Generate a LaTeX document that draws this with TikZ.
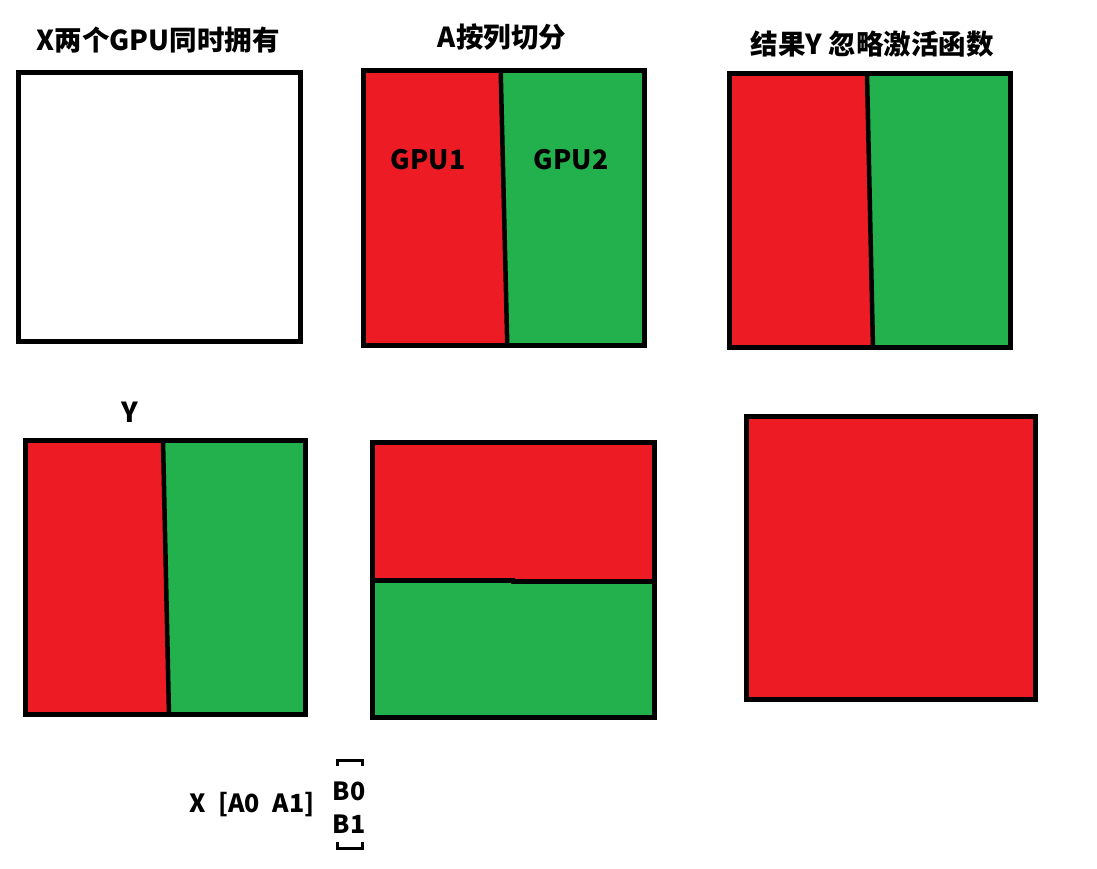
\documentclass[tikz,border=0pt]{standalone}
\usepackage{fontspec}
\setmainfont{Noto Sans CJK SC}
\usetikzlibrary{calc}
\definecolor{gpured}{HTML}{ED1C24}
\definecolor{gpugreen}{HTML}{22B14C}
\tikzset{every scope/.style={line join=miter},
  frame/.style={draw=black,line width=5pt},
  divider/.style={draw=black,line width=4.5pt},
  bracketbar/.style={draw=black,line width=3pt},
  lbl/.style={font=\bfseries\fontsize{27.5}{31}\selectfont,inner sep=0pt},
  gpulbl/.style={font=\bfseries\fontsize{26.7}{30}\selectfont,inner sep=0pt},
  sublbl/.style={font=\bfseries\fontsize{25}{29}\selectfont,inner sep=0pt}}

\begin{document}
\begin{tikzpicture}[x=1pt,y=-1pt]
      \useasboundingbox (0,0) rectangle (1097,869);
      % titles
      \node[lbl] (tX) at (158,40) {X两个GPU同时拥有};
      \node[lbl] (tA) at (502,37) {A按列切分};
      \node[lbl] (tY) at (872,44) {结果Y 忽略激活函数};
      % X
      \draw[frame,fill=white] (18.5,72.5) rectangle (300.5,341.5);
      % A split by columns
      \fill[gpured] (363,71) -- (500.7,71) -- (507.3,345) -- (363,345) -- cycle;
      \fill[gpugreen] (500.7,71) -- (644,71) -- (644,345) -- (507.3,345) -- cycle;
      \draw[divider] (500.7,71) -- (507.3,347);
      \draw[frame] (363,71) rectangle (644,345);
      \node[gpulbl] (g1) at (428,160) {GPU1};
      \node[gpulbl] (g2) at (571,160) {GPU2};
      % result Y
      \fill[gpured] (729,74) -- (867,74) -- (873,347) -- (729,347) -- cycle;
      \fill[gpugreen] (867,74) -- (1010,74) -- (1010,347) -- (873,347) -- cycle;
      \draw[divider] (867,74) -- (873,349);
      \draw[frame] (729,74) rectangle (1010,347);
      % Y
      \node[lbl] (yl) at (130,412) {Y};
      \fill[gpured] (25,440) -- (163,440) -- (169,714) -- (25,714) -- cycle;
      \fill[gpugreen] (163,440) -- (305,440) -- (305,714) -- (169,714) -- cycle;
      \draw[divider] (163,440) -- (169,716);
      \draw[frame] (25,440) rectangle (305,714);
      % B split by rows
      \fill[gpured] (372,442) rectangle (654,580.5);
      \fill[gpugreen] (372,580.5) rectangle (654,717);
      \draw[divider] (372,580.3) -- (513,580.3) -- (513,581.3) -- (654,581.3);
      \draw[frame] (372,442) rectangle (654,717);
      % sum
      \draw[frame,fill=gpured] (746.5,416.5) rectangle (1035.5,699.5);
      % X [A0 A1] [B0 B1]
      \node[sublbl] (xa) at (252,805) {X\hspace{0.5em}[A0\hspace{0.5em}A1]};
      \node[sublbl] (b0) at (349,791) {B0};
      \node[sublbl] (b1) at (349,824) {B1};
      \draw[bracketbar] (337,766) -- (337,760) -- (362,760) -- (362,766);
      \draw[bracketbar] (337,842) -- (337,848) -- (362,848) -- (362,842);
    \end{tikzpicture}
\end{document}
